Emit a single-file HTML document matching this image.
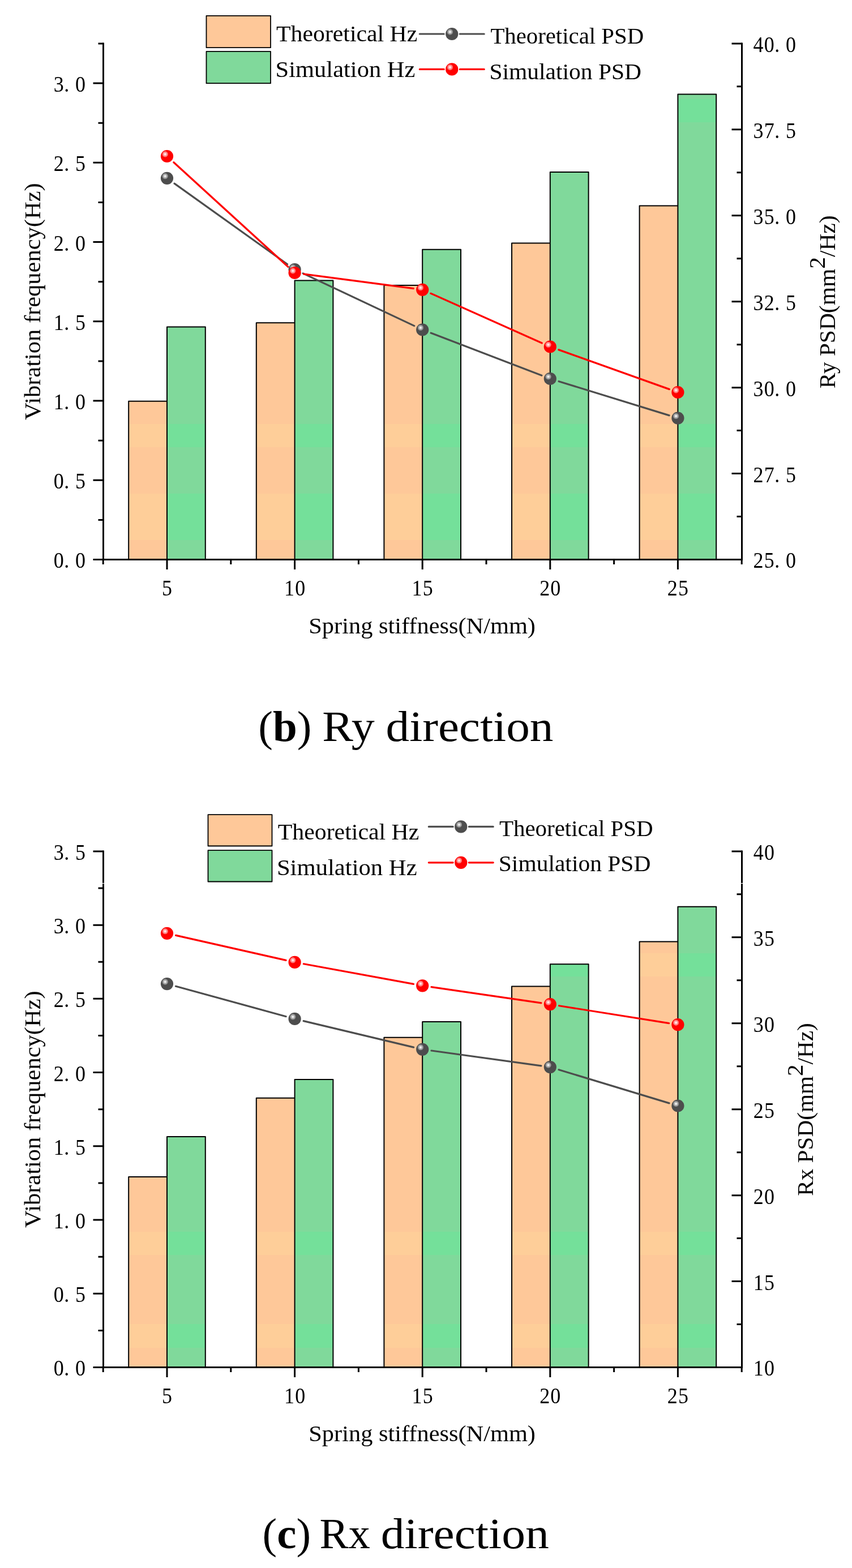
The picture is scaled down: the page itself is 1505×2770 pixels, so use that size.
<!DOCTYPE html>
<html lang="en"><head><meta charset="utf-8"><title>Vibration frequency and PSD versus spring stiffness</title>
<style>
html,body{margin:0;padding:0;background:#fff;}
body{width:1505px;height:2770px;overflow:hidden;}
svg{display:block;}
text{font-family:"Liberation Serif", "DejaVu Serif", serif;fill:#000;}
.tk{text-anchor:middle;}
.lb{font-size:40.8px;}
.cap{font-size:77px;}
</style></head><body>
<svg width="1505" height="2770" viewBox="0 0 1505 2770">
<defs>
<radialGradient id="hg" cx="0.5" cy="0.5" r="0.5"><stop offset="0" stop-color="#fff"/><stop offset="0.15" stop-color="#f2f2f2"/><stop offset="0.5" stop-color="#b4b4b4"/><stop offset="0.88" stop-color="#808080"/><stop offset="1" stop-color="#4D4D4D"/></radialGradient>
<radialGradient id="hr" cx="0.5" cy="0.5" r="0.5"><stop offset="0" stop-color="#fff"/><stop offset="0.15" stop-color="#ffecec"/><stop offset="0.5" stop-color="#ffa0a0"/><stop offset="0.88" stop-color="#ff5858"/><stop offset="1" stop-color="#FF0000"/></radialGradient>
</defs>
<rect x="0" y="0" width="1505" height="2770" fill="#fff"/>
<g id="chart-b">
<g class="bars">
<rect x="227.2" y="708.8" width="67.8" height="279.7" fill="#FEC899"/>
<rect x="295" y="577.6" width="67.8" height="410.9" fill="#80D99B"/>
<rect x="452.8" y="570.2" width="67.8" height="418.3" fill="#FEC899"/>
<rect x="520.6" y="495.4" width="67.8" height="493.1" fill="#80D99B"/>
<rect x="678.4" y="504" width="67.8" height="484.5" fill="#FEC899"/>
<rect x="746.2" y="440.8" width="67.8" height="547.7" fill="#80D99B"/>
<rect x="904" y="429.6" width="67.8" height="558.9" fill="#FEC899"/>
<rect x="971.8" y="304" width="67.8" height="684.5" fill="#80D99B"/>
<rect x="1129.6" y="363.6" width="67.8" height="624.9" fill="#FEC899"/>
<rect x="1197.4" y="166.4" width="67.8" height="822.1" fill="#80D99B"/>
<path d="M227.2 749h67.8v41h-67.8zM227.2 872h67.8v82h-67.8zM452.8 749h67.8v41h-67.8zM452.8 872h67.8v82h-67.8zM678.4 749h67.8v41h-67.8zM678.4 872h67.8v82h-67.8zM904 749h67.8v41h-67.8zM904 872h67.8v82h-67.8zM1129.6 749h67.8v41h-67.8zM1129.6 872h67.8v82h-67.8z" fill="#FECE99"/>
<path d="M295 749h67.8v41h-67.8zM295 872h67.8v82h-67.8zM520.6 749h67.8v41h-67.8zM520.6 872h67.8v82h-67.8zM746.2 749h67.8v41h-67.8zM746.2 872h67.8v82h-67.8zM971.8 749h67.8v41h-67.8zM971.8 872h67.8v82h-67.8zM1197.4 175h67.8v41h-67.8zM1197.4 749h67.8v41h-67.8zM1197.4 872h67.8v82h-67.8z" fill="#74E09A"/>
<path d="M227.2 988.5V708.8H295V988.5M295 708.8V577.6H362.8V988.5M452.8 988.5V570.2H520.6V988.5M520.6 570.2V495.4H588.4V988.5M678.4 988.5V504H746.2V988.5M746.2 504V440.8H814V988.5M904 988.5V429.6H971.8V988.5M971.8 429.6V304H1039.6V988.5M1129.6 988.5V363.6H1197.4V988.5M1197.4 363.6V166.4H1265.2V988.5" fill="none" stroke="#000" stroke-width="2" stroke-linejoin="round"/>
</g>
<g stroke="#000" stroke-width="3" fill="none" stroke-linecap="butt">
<path d="M182.5 75.4V990"/>
<path d="M1310.5 75.4V990"/>
<path d="M164.5 988.5H1312"/>
<path d="M173.5 918.38H182.5M164.5 848.25H182.5M173.5 778.13H182.5M164.5 708.01H182.5M173.5 637.88H182.5M164.5 567.76H182.5M173.5 497.64H182.5M164.5 427.52H182.5M173.5 357.39H182.5M164.5 287.27H182.5M173.5 217.15H182.5M164.5 147.02H182.5M173.5 76.9H182.5M1301.5 912.53H1310.5M1292.5 836.57H1310.5M1301.5 760.6H1310.5M1292.5 684.63H1310.5M1301.5 608.67H1310.5M1292.5 532.7H1310.5M1301.5 456.73H1310.5M1292.5 380.77H1310.5M1301.5 304.8H1310.5M1292.5 228.83H1310.5M1301.5 152.87H1310.5M1292.5 76.9H1310.5M295 988.5V1006.1M520.6 988.5V1006.1M746.2 988.5V1006.1M971.8 988.5V1006.1M1197.4 988.5V1006.1M182.2 988.5V997.1M407.8 988.5V997.1M633.4 988.5V997.1M859 988.5V997.1M1084.6 988.5V997.1M1310.2 988.5V997.1"/>
</g>
<path d="M308.02 324.1L507.58 466.7M535.07 482.83L731.73 575.67M761.14 588.23L956.86 663.27M987.09 673.72L1182.11 733.88" stroke="#4D4D4D" stroke-width="3.2" fill="none" stroke-linecap="round"/>
<path d="M306.82 286.79L508.78 471.21M536.46 484.1L730.34 509.7M760.81 518.32L957.19 605.98M986.87 617.88L1182.33 687.62" stroke="#FF0000" stroke-width="3.2" fill="none" stroke-linecap="round"/>
<circle cx="295" cy="314.8" r="11.1" fill="#4D4D4D"/><circle cx="291.7" cy="311.2" r="5.6" fill="url(#hg)"/>
<circle cx="520.6" cy="476" r="11.1" fill="#4D4D4D"/><circle cx="517.3" cy="472.4" r="5.6" fill="url(#hg)"/>
<circle cx="746.2" cy="582.5" r="11.1" fill="#4D4D4D"/><circle cx="742.9" cy="578.9" r="5.6" fill="url(#hg)"/>
<circle cx="971.8" cy="669" r="11.1" fill="#4D4D4D"/><circle cx="968.5" cy="665.4" r="5.6" fill="url(#hg)"/>
<circle cx="1197.4" cy="738.6" r="11.1" fill="#4D4D4D"/><circle cx="1194.1" cy="735" r="5.6" fill="url(#hg)"/>
<circle cx="295" cy="276" r="11.1" fill="#FF0000"/><circle cx="291.7" cy="272.4" r="5.6" fill="url(#hr)"/>
<circle cx="520.6" cy="482" r="11.1" fill="#FF0000"/><circle cx="517.3" cy="478.4" r="5.6" fill="url(#hr)"/>
<circle cx="746.2" cy="511.8" r="11.1" fill="#FF0000"/><circle cx="742.9" cy="508.2" r="5.6" fill="url(#hr)"/>
<circle cx="971.8" cy="612.5" r="11.1" fill="#FF0000"/><circle cx="968.5" cy="608.9" r="5.6" fill="url(#hr)"/>
<circle cx="1197.4" cy="693" r="11.1" fill="#FF0000"/><circle cx="1194.1" cy="689.4" r="5.6" fill="url(#hr)"/>
<rect x="364.5" y="27.8" width="113.5" height="56.4" fill="#FEC899" stroke="#000" stroke-width="1.8" stroke-linejoin="round"/>
<rect x="364.5" y="90.9" width="113.5" height="56.3" fill="#80D99B" stroke="#000" stroke-width="1.8" stroke-linejoin="round"/>
<text class="lb" x="488.1" y="72.7" textLength="249.2" lengthAdjust="spacingAndGlyphs">Theoretical Hz</text>
<text class="lb" x="486.6" y="135.5" textLength="246.8" lengthAdjust="spacingAndGlyphs">Simulation Hz</text>
<text class="lb" x="866.4" y="76.5" textLength="270.7" lengthAdjust="spacingAndGlyphs">Theoretical PSD</text>
<text class="lb" x="864.5" y="139.5" textLength="268.5" lengthAdjust="spacingAndGlyphs">Simulation PSD</text>
<path d="M741.3 60H784.15M812.35 60H855.2" stroke="#4D4D4D" stroke-width="3.2" fill="none" stroke-linecap="round"/>
<circle cx="798.25" cy="60" r="11.1" fill="#4D4D4D"/><circle cx="794.95" cy="56.4" r="5.6" fill="url(#hg)"/>
<path d="M741.3 122.4H784.15M812.35 122.4H855.2" stroke="#FF0000" stroke-width="3.2" fill="none" stroke-linecap="round"/>
<circle cx="798.25" cy="122.4" r="11.1" fill="#FF0000"/><circle cx="794.95" cy="118.8" r="5.6" fill="url(#hr)"/>
<text class="tk" transform="scale(0.9 1.02)" x="115.22 130.72 157.78" y="983.82" font-size="40">0.0</text>
<text class="tk" transform="scale(0.9 1.02)" x="115.22 130.72 157.78" y="846.33" font-size="40">0.5</text>
<text class="tk" transform="scale(0.9 1.02)" x="115.22 130.72 157.78" y="708.83" font-size="40">1.0</text>
<text class="tk" transform="scale(0.9 1.02)" x="115.22 130.72 157.78" y="571.33" font-size="40">1.5</text>
<text class="tk" transform="scale(0.9 1.02)" x="115.22 130.72 157.78" y="433.84" font-size="40">2.0</text>
<text class="tk" transform="scale(0.9 1.02)" x="115.22 130.72 157.78" y="296.34" font-size="40">2.5</text>
<text class="tk" transform="scale(0.9 1.02)" x="115.22 130.72 157.78" y="158.85" font-size="40">3.0</text>
<text class="tk" transform="scale(0.9 1.02)" x="1488.39 1509.67 1525.17 1552.22" y="983.82" font-size="40">25.0</text>
<text class="tk" transform="scale(0.9 1.02)" x="1488.39 1509.67 1525.17 1552.22" y="834.87" font-size="40">27.5</text>
<text class="tk" transform="scale(0.9 1.02)" x="1488.39 1509.67 1525.17 1552.22" y="685.92" font-size="40">30.0</text>
<text class="tk" transform="scale(0.9 1.02)" x="1488.39 1509.67 1525.17 1552.22" y="536.96" font-size="40">32.5</text>
<text class="tk" transform="scale(0.9 1.02)" x="1488.39 1509.67 1525.17 1552.22" y="388.01" font-size="40">35.0</text>
<text class="tk" transform="scale(0.9 1.02)" x="1488.39 1509.67 1525.17 1552.22" y="239.05" font-size="40">37.5</text>
<text class="tk" transform="scale(0.9 1.02)" x="1488.39 1509.67 1525.17 1552.22" y="90.1" font-size="40">40.0</text>
<text class="tk" transform="scale(0.9 1.02)" x="327.78" y="1031.18" font-size="40">5</text>
<text class="tk" transform="scale(0.9 1.02)" x="567.78 589.06" y="1031.18" font-size="40">10</text>
<text class="tk" transform="scale(0.9 1.02)" x="818.44 839.72" y="1031.18" font-size="40">15</text>
<text class="tk" transform="scale(0.9 1.02)" x="1069.11 1090.39" y="1031.18" font-size="40">20</text>
<text class="tk" transform="scale(0.9 1.02)" x="1319.78 1341.06" y="1031.18" font-size="40">25</text>
<text class="lb" x="545.3" y="1119.3" textLength="400.7" lengthAdjust="spacingAndGlyphs">Spring stiffness(N/mm)</text>
<text class="lb" transform="translate(71 742) rotate(-90)" x="0" y="0" textLength="418.6" lengthAdjust="spacingAndGlyphs">Vibration frequency(Hz)</text>
<text class="lb" transform="translate(1475.3 686.3) rotate(-90) scale(1.0165 1)" x="0" y="0">Ry PSD(mm<tspan dy="-18.3">2</tspan><tspan dy="18.3">/Hz)</tspan></text>
<text class="cap" x="456.3" y="1309">(<tspan font-weight="bold">b</tspan>) <tspan x="569.3" textLength="92.3" lengthAdjust="spacingAndGlyphs">Ry</tspan> <tspan x="681.5" textLength="296" lengthAdjust="spacingAndGlyphs">direction</tspan></text>
</g>
<g id="chart-c">
<g class="bars">
<rect x="227.2" y="2079" width="67.8" height="336.5" fill="#FEC899"/>
<rect x="295" y="2007.9" width="67.8" height="407.6" fill="#80D99B"/>
<rect x="452.8" y="1939.8" width="67.8" height="475.7" fill="#FEC899"/>
<rect x="520.6" y="1907.1" width="67.8" height="508.4" fill="#80D99B"/>
<rect x="678.4" y="1832.7" width="67.8" height="582.8" fill="#FEC899"/>
<rect x="746.2" y="1805" width="67.8" height="610.5" fill="#80D99B"/>
<rect x="904" y="1742.5" width="67.8" height="673" fill="#FEC899"/>
<rect x="971.8" y="1703.2" width="67.8" height="712.3" fill="#80D99B"/>
<rect x="1129.6" y="1663.4" width="67.8" height="752.1" fill="#FEC899"/>
<rect x="1197.4" y="1601.7" width="67.8" height="813.8" fill="#80D99B"/>
<path d="M227.2 2176h67.8v41h-67.8zM227.2 2339h67.8v42h-67.8zM452.8 2176h67.8v41h-67.8zM452.8 2339h67.8v42h-67.8zM678.4 2176h67.8v41h-67.8zM678.4 2339h67.8v42h-67.8zM904 2176h67.8v41h-67.8zM904 2339h67.8v42h-67.8zM1129.6 1684h67.8v41h-67.8zM1129.6 2176h67.8v41h-67.8zM1129.6 2339h67.8v42h-67.8z" fill="#FECE99"/>
<path d="M295 2176h67.8v41h-67.8zM295 2339h67.8v42h-67.8zM520.6 2176h67.8v41h-67.8zM520.6 2339h67.8v42h-67.8zM746.2 2176h67.8v41h-67.8zM746.2 2339h67.8v42h-67.8zM971.8 1703.2h67.8v21.8h-67.8zM971.8 2176h67.8v41h-67.8zM971.8 2339h67.8v42h-67.8zM1197.4 1684h67.8v41h-67.8zM1197.4 2176h67.8v41h-67.8zM1197.4 2339h67.8v42h-67.8z" fill="#74E09A"/>
<path d="M227.2 2415.5V2079H295V2415.5M295 2079V2007.9H362.8V2415.5M452.8 2415.5V1939.8H520.6V2415.5M520.6 1939.8V1907.1H588.4V2415.5M678.4 2415.5V1832.7H746.2V2415.5M746.2 1832.7V1805H814V2415.5M904 2415.5V1742.5H971.8V2415.5M971.8 1742.5V1703.2H1039.6V2415.5M1129.6 2415.5V1663.4H1197.4V2415.5M1197.4 1663.4V1601.7H1265.2V2415.5" fill="none" stroke="#000" stroke-width="2" stroke-linejoin="round"/>
</g>
<g stroke="#000" stroke-width="3" fill="none" stroke-linecap="butt">
<path d="M182.5 1502.4V2417"/>
<path d="M1310.5 1502.4V2417"/>
<path d="M164.5 2415.5H1312"/>
<path d="M173.5 2350.39H182.5M164.5 2285.27H182.5M173.5 2220.16H182.5M164.5 2155.04H182.5M173.5 2089.93H182.5M164.5 2024.81H182.5M173.5 1959.7H182.5M164.5 1894.59H182.5M173.5 1829.47H182.5M164.5 1764.36H182.5M173.5 1699.24H182.5M164.5 1634.13H182.5M173.5 1569.01H182.5M164.5 1503.9H182.5M1301.5 2339.53H1310.5M1292.5 2263.57H1310.5M1301.5 2187.6H1310.5M1292.5 2111.63H1310.5M1301.5 2035.67H1310.5M1292.5 1959.7H1310.5M1301.5 1883.73H1310.5M1292.5 1807.77H1310.5M1301.5 1731.8H1310.5M1292.5 1655.83H1310.5M1301.5 1579.87H1310.5M1292.5 1503.9H1310.5M295 2415.5V2433.1M520.6 2415.5V2433.1M746.2 2415.5V2433.1M971.8 2415.5V2433.1M1197.4 2415.5V2433.1M182.2 2415.5V2424.1M407.8 2415.5V2424.1M633.4 2415.5V2424.1M859 2415.5V2424.1M1084.6 2415.5V2424.1M1310.2 2415.5V2424.1"/>
</g>
<path d="M310.43 1742.33L505.17 1795.67M536.16 1803.62L730.64 1850.08M762.05 1856L955.95 1882.9M987.11 1889.74L1182.09 1948.86" stroke="#4D4D4D" stroke-width="3.2" fill="none" stroke-linecap="round"/>
<path d="M310.6 1652.33L505 1696.37M536.34 1702.79L730.46 1738.41M762.03 1743.61L955.97 1771.89M987.6 1776.72L1181.6 1807.68" stroke="#FF0000" stroke-width="3.2" fill="none" stroke-linecap="round"/>
<circle cx="295" cy="1738.1" r="11.1" fill="#4D4D4D"/><circle cx="291.7" cy="1734.5" r="5.6" fill="url(#hg)"/>
<circle cx="520.6" cy="1799.9" r="11.1" fill="#4D4D4D"/><circle cx="517.3" cy="1796.3" r="5.6" fill="url(#hg)"/>
<circle cx="746.2" cy="1853.8" r="11.1" fill="#4D4D4D"/><circle cx="742.9" cy="1850.2" r="5.6" fill="url(#hg)"/>
<circle cx="971.8" cy="1885.1" r="11.1" fill="#4D4D4D"/><circle cx="968.5" cy="1881.5" r="5.6" fill="url(#hg)"/>
<circle cx="1197.4" cy="1953.5" r="11.1" fill="#4D4D4D"/><circle cx="1194.1" cy="1949.9" r="5.6" fill="url(#hg)"/>
<circle cx="295" cy="1648.8" r="11.1" fill="#FF0000"/><circle cx="291.7" cy="1645.2" r="5.6" fill="url(#hr)"/>
<circle cx="520.6" cy="1699.9" r="11.1" fill="#FF0000"/><circle cx="517.3" cy="1696.3" r="5.6" fill="url(#hr)"/>
<circle cx="746.2" cy="1741.3" r="11.1" fill="#FF0000"/><circle cx="742.9" cy="1737.7" r="5.6" fill="url(#hr)"/>
<circle cx="971.8" cy="1774.2" r="11.1" fill="#FF0000"/><circle cx="968.5" cy="1770.6" r="5.6" fill="url(#hr)"/>
<circle cx="1197.4" cy="1810.2" r="11.1" fill="#FF0000"/><circle cx="1194.1" cy="1806.6" r="5.6" fill="url(#hr)"/>
<rect x="367.5" y="1439.1" width="113" height="55.4" fill="#FEC899" stroke="#000" stroke-width="1.8" stroke-linejoin="round"/>
<rect x="367.5" y="1502.1" width="113" height="55.4" fill="#80D99B" stroke="#000" stroke-width="1.8" stroke-linejoin="round"/>
<text class="lb" x="490.7" y="1483" textLength="249.7" lengthAdjust="spacingAndGlyphs">Theoretical Hz</text>
<text class="lb" x="488.9" y="1545.5" textLength="247.7" lengthAdjust="spacingAndGlyphs">Simulation Hz</text>
<text class="lb" x="881.9" y="1477" textLength="271.8" lengthAdjust="spacingAndGlyphs">Theoretical PSD</text>
<text class="lb" x="880.8" y="1539.4" textLength="268.6" lengthAdjust="spacingAndGlyphs">Simulation PSD</text>
<path d="M757.3 1460.4H800.15M828.35 1460.4H871.2" stroke="#4D4D4D" stroke-width="3.2" fill="none" stroke-linecap="round"/>
<circle cx="814.25" cy="1460.4" r="11.1" fill="#4D4D4D"/><circle cx="810.95" cy="1456.8" r="5.6" fill="url(#hg)"/>
<path d="M757.3 1523.8H800.15M828.35 1523.8H871.2" stroke="#FF0000" stroke-width="3.2" fill="none" stroke-linecap="round"/>
<circle cx="814.25" cy="1523.8" r="11.1" fill="#FF0000"/><circle cx="810.95" cy="1520.2" r="5.6" fill="url(#hr)"/>
<text class="tk" transform="scale(0.9 1.02)" x="115.22 130.72 157.78" y="2382.84" font-size="40">0.0</text>
<text class="tk" transform="scale(0.9 1.02)" x="115.22 130.72 157.78" y="2255.17" font-size="40">0.5</text>
<text class="tk" transform="scale(0.9 1.02)" x="115.22 130.72 157.78" y="2127.49" font-size="40">1.0</text>
<text class="tk" transform="scale(0.9 1.02)" x="115.22 130.72 157.78" y="1999.82" font-size="40">1.5</text>
<text class="tk" transform="scale(0.9 1.02)" x="115.22 130.72 157.78" y="1872.14" font-size="40">2.0</text>
<text class="tk" transform="scale(0.9 1.02)" x="115.22 130.72 157.78" y="1744.47" font-size="40">2.5</text>
<text class="tk" transform="scale(0.9 1.02)" x="115.22 130.72 157.78" y="1616.79" font-size="40">3.0</text>
<text class="tk" transform="scale(0.9 1.02)" x="115.22 130.72 157.78" y="1489.12" font-size="40">3.5</text>
<text class="tk" transform="scale(0.9 1.02)" x="1488.72 1510" y="2382.84" font-size="40">10</text>
<text class="tk" transform="scale(0.9 1.02)" x="1488.72 1510" y="2233.89" font-size="40">15</text>
<text class="tk" transform="scale(0.9 1.02)" x="1488.72 1510" y="2084.93" font-size="40">20</text>
<text class="tk" transform="scale(0.9 1.02)" x="1488.72 1510" y="1935.98" font-size="40">25</text>
<text class="tk" transform="scale(0.9 1.02)" x="1488.72 1510" y="1787.03" font-size="40">30</text>
<text class="tk" transform="scale(0.9 1.02)" x="1488.72 1510" y="1638.07" font-size="40">35</text>
<text class="tk" transform="scale(0.9 1.02)" x="1488.72 1510" y="1489.12" font-size="40">40</text>
<text class="tk" transform="scale(0.9 1.02)" x="327.78" y="2430.2" font-size="40">5</text>
<text class="tk" transform="scale(0.9 1.02)" x="567.78 589.06" y="2430.2" font-size="40">10</text>
<text class="tk" transform="scale(0.9 1.02)" x="818.44 839.72" y="2430.2" font-size="40">15</text>
<text class="tk" transform="scale(0.9 1.02)" x="1069.11 1090.39" y="2430.2" font-size="40">20</text>
<text class="tk" transform="scale(0.9 1.02)" x="1319.78 1341.06" y="2430.2" font-size="40">25</text>
<text class="lb" x="545.3" y="2546.3" textLength="400.7" lengthAdjust="spacingAndGlyphs">Spring stiffness(N/mm)</text>
<text class="lb" transform="translate(71 2169) rotate(-90)" x="0" y="0" textLength="418.6" lengthAdjust="spacingAndGlyphs">Vibration frequency(Hz)</text>
<text class="lb" transform="translate(1436 2112.8) rotate(-90) scale(1.01 1)" x="0" y="0">Rx PSD(mm<tspan dy="-18.3">2</tspan><tspan dy="18.3">/Hz)</tspan></text>
<text class="cap" x="463.6" y="2734.5">(<tspan font-weight="bold">c</tspan>) <tspan x="564.5" textLength="89.4" lengthAdjust="spacingAndGlyphs">Rx</tspan> <tspan x="672.7" textLength="297.2" lengthAdjust="spacingAndGlyphs">direction</tspan></text>
</g>
<rect x="0" y="1560" width="1505" height="1.1" fill="#fff"/>
</svg>
</body></html>
